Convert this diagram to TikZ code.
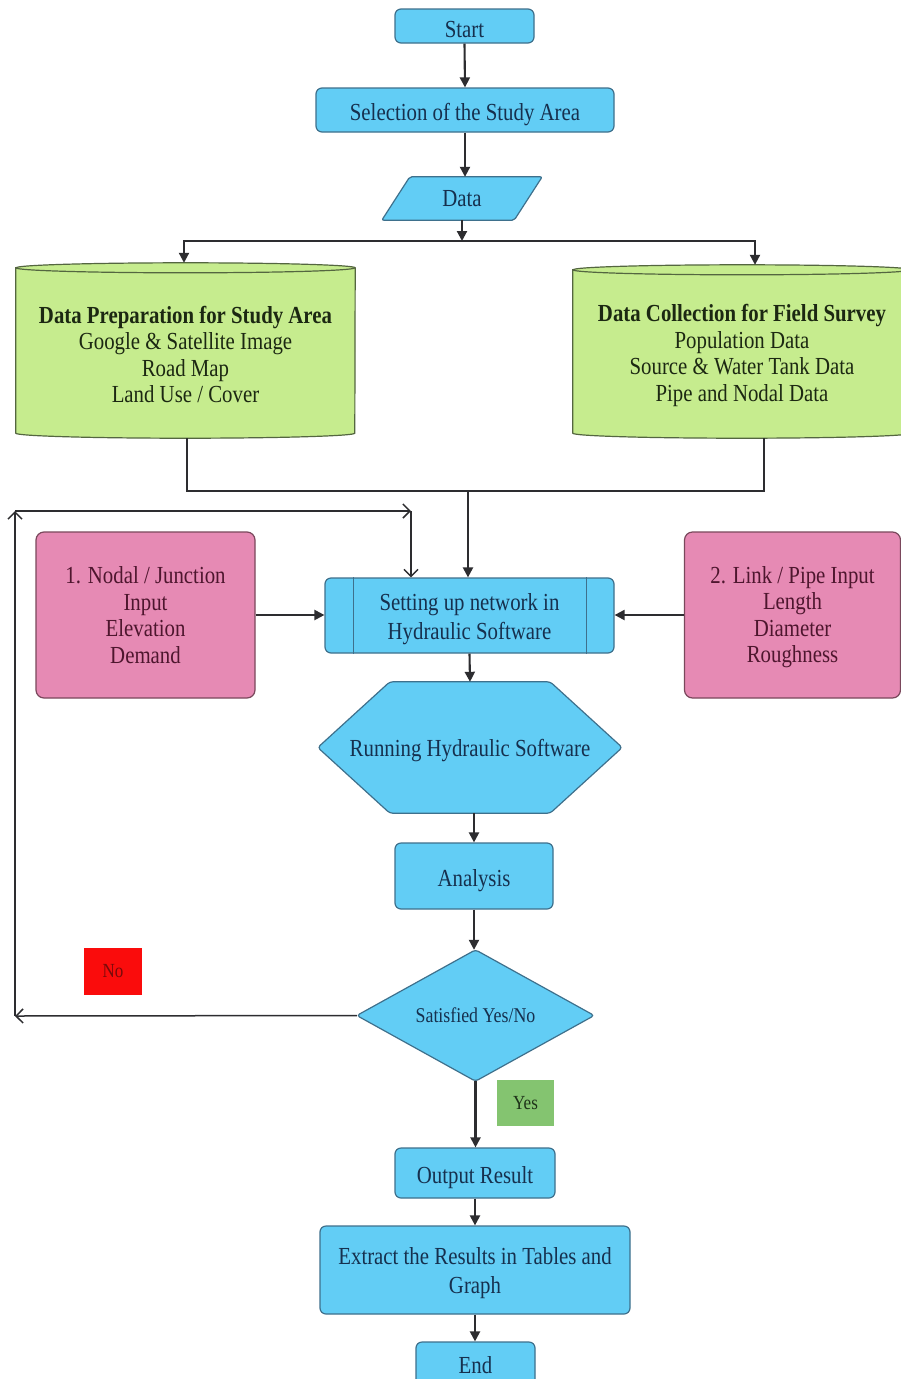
\documentclass[tikz,border=0pt]{standalone}
\usepackage{fontspec}
\setmainfont{Liberation Serif}[FakeStretch=0.85]
\usetikzlibrary{arrows.meta,calc,backgrounds}

\definecolor{bfill}{RGB}{98,205,245}
\definecolor{bdraw}{RGB}{62,112,140}
\definecolor{btext}{RGB}{22,48,78}
\definecolor{gfill}{RGB}{198,236,142}
\definecolor{gdraw}{RGB}{84,102,64}
\definecolor{gtext}{RGB}{28,40,18}
\definecolor{pfill}{RGB}{230,138,180}
\definecolor{pdraw}{RGB}{122,72,92}
\definecolor{ptext}{RGB}{78,22,46}
\definecolor{redbox}{RGB}{250,12,12}
\definecolor{redtext}{RGB}{120,10,10}
\definecolor{yesfill}{RGB}{132,196,112}
\definecolor{yestext}{RGB}{30,50,25}
\definecolor{linec}{RGB}{45,45,48}

\newcommand{\lowstrut}[1]{\rule{0pt}{#1}}

\begin{document}
\begin{tikzpicture}[x=1pt,y=1pt,
  base/.style={align=center, inner sep=0pt, font=\fontsize{24.5}{26.5}\selectfont},
  textlow/.style={execute at begin node={\rule{0pt}{#1}}},
  bluebox/.style={base, draw=bdraw, fill=bfill, line width=1.2pt, rounded corners=6pt, text=btext},
  blueshape/.style={draw=bdraw, fill=bfill, line width=1.2pt, rounded corners=3pt},
  bluetext/.style={base, text=btext},
  cyltext/.style={base, text=gtext},
  cylshape/.style={draw=gdraw, fill=gfill, line width=1.2pt},
  pinkbox/.style={base, draw=pdraw, fill=pfill, line width=1.2pt, rounded corners=8pt, text=ptext},
  nolabel/.style={base, font=\fontsize{20}{22}\selectfont, fill=redbox, text=redtext, minimum width=58pt, minimum height=47pt},
  yeslabel/.style={base, font=\fontsize{20}{22}\selectfont, fill=yesfill, text=yestext, minimum width=57pt, minimum height=46pt},
  conn/.style={draw=linec, line width=2.1pt},
  arr/.style={conn, -{Triangle[length=10pt,width=10pt]}},
  openarr/.style={conn, line width=1.5pt, -{Straight Barb[length=7pt,width=14pt,line width=1.5pt]}}
]
\useasboundingbox (0,0) rectangle (901,-1379);

% nodes
\node[bluebox, textlow=23pt, minimum width=139pt, minimum height=34pt] (start) at (464.5,-26) {Start};
\node[bluebox, textlow=27pt, minimum width=298pt, minimum height=44pt] (sel) at (465,-110) {Selection of the Study Area};
\node[bluetext, minimum width=160pt, minimum height=43pt] (data) at (462,-198.5) {Data};

\node[cyltext, minimum width=339pt, minimum height=175pt] (prep) at (185.5,-350.5)
  {\lowstrut{25pt}{\bfseries Data Preparation for Study Area}\\Google \& Satellite Image\\Road Map\\Land Use / Cover};
\node[cyltext, minimum width=338pt, minimum height=173pt] (coll) at (742,-351.5)
  {\lowstrut{25pt}{\bfseries Data Collection for Field Survey}\\Population Data\\Source \& Water Tank Data\\Pipe and Nodal Data};

\node[pinkbox, minimum width=219pt, minimum height=166pt] (nodal) at (145.5,-615)
  {1. Nodal / Junction\\Input\\Elevation\\Demand};
\node[pinkbox, minimum width=216pt, minimum height=166pt] (link) at (792.5,-615)
  {\lowstrut{21pt}2. Link / Pipe Input\\Length\\Diameter\\Roughness};

\node[bluebox, font=\fontsize{24.5}{29}\selectfont, minimum width=289pt, minimum height=75pt] (setup) at (469.5,-615.5)
  {\lowstrut{25pt}Setting up network in\\Hydraulic Software};
\node[bluetext, textlow=23pt, minimum width=304pt, minimum height=131pt] (run) at (470,-747.5) {Running Hydraulic Software};
\node[bluebox, textlow=27pt, minimum width=158pt, minimum height=66pt] (analysis) at (474,-876) {Analysis};
\node[bluetext, font=\fontsize{21}{23}\selectfont, minimum width=237pt, minimum height=131pt] (sat) at (475.5,-1015.5) {Satisfied Yes/No};
\node[bluebox, textlow=27pt, minimum width=160pt, minimum height=50pt] (out) at (475,-1173) {Output Result};
\node[bluebox, font=\fontsize{24.5}{29}\selectfont, minimum width=310pt, minimum height=88pt] (extract) at (475,-1270)
  {\lowstrut{23pt}Extract the Results in Tables and\\Graph};
\node[bluebox, minimum width=119pt, minimum height=46pt] (end) at (475.5,-1365) {End};

\node[nolabel] (no) at (113,-971.5) {No};
\node[yeslabel] (yes) at (525.5,-1103) {Yes};

% shapes drawn behind
\begin{scope}[on background layer]
  \fill[white] (0,0) rectangle (901,-1379);
  \path[blueshape, rounded corners=2pt] (data.south west) -- ($(data.north west)+(28,0)$) -- (data.north east)
     -- ($(data.south east)+(-28,0)$) -- cycle;
  \path[cylshape] ($(prep.north west)+(0,-5)$) -- ($(prep.south west)+(0,5)$)
     arc[start angle=180,end angle=360,x radius=169.5pt,y radius=5pt]
     -- ($(prep.north east)+(0,-5)$)
     arc[start angle=0,end angle=180,x radius=169.5pt,y radius=5pt] -- cycle;
  \draw[draw=gdraw, line width=1.2pt] ($(prep.north west)+(0,-5)$)
     arc[start angle=180,end angle=360,x radius=169.5pt,y radius=5pt];
  \path[cylshape] ($(coll.north west)+(0,-5)$) -- ($(coll.south west)+(0,5)$)
     arc[start angle=180,end angle=360,x radius=169pt,y radius=5pt]
     -- ($(coll.north east)+(0,-5)$)
     arc[start angle=0,end angle=180,x radius=169pt,y radius=5pt] -- cycle;
  \draw[draw=gdraw, line width=1.2pt] ($(coll.north west)+(0,-5)$)
     arc[start angle=180,end angle=360,x radius=169pt,y radius=5pt];
  \path[blueshape] (run.west) -- ($(run.north west)+(72,0)$) -- ($(run.north east)+(-72,0)$)
     -- (run.east) -- ($(run.south east)+(-72,0)$) -- ($(run.south west)+(72,0)$) -- cycle;
  \path[blueshape] (sat.west) -- (sat.north) -- (sat.east) -- (sat.south) -- cycle;
\end{scope}
\draw[draw=bdraw, line width=1.2pt] ($(setup.north west)+(29,0)$) -- ($(setup.south west)+(29,0)$);
\draw[draw=bdraw, line width=1.2pt] ($(setup.north east)+(-28,0)$) -- ($(setup.south east)+(-28,0)$);

% coordinates
\coordinate (j) at (462,-241);
\coordinate (m) at (468,-491);
\coordinate (la) at (15,-1016);
\coordinate (lb) at (15,-511);
\coordinate (lc) at (411,-511);

% connectors
\draw[arr] (start.south) -- (sel.north);
\draw[arr] (sel.south) -- (sel.south |- data.north);
\draw[arr] (data.south) -- (j);
\draw[arr] (j) -| ($(prep.north)+(-1.5,0)$);
\draw[arr] (j) -| ($(coll.north)+(13,0)$);
\draw[conn] ($(prep.south)+(1.5,0)$) |- (m);
\draw[conn] (m) -| ($(coll.south)+(22,0)$);
\draw[arr] (m) -- (m |- setup.north);
\draw[arr] (nodal.east) -- (nodal.east -| setup.west);
\draw[arr] (link.west) -- (link.west -| setup.east);
\draw[arr] (setup.south) -- (run.north);
\draw[arr] (analysis.north |- run.south) -- (analysis.north);
\draw[arr] (analysis.south) -- (analysis.south |- sat.north);
\draw[arr] (sat.south) -- (sat.south |- out.north);
\draw[arr] (out.south) -- (extract.north);
\draw[arr] (extract.south) -- (extract.south |- end.north);
\draw[openarr] (sat.west) -- (la);
\draw[openarr] (la) -- (lb);
\draw[openarr] (lb) -- (lc);
\draw[openarr] (lc) -- (lc |- setup.north);
\end{tikzpicture}
\end{document}
